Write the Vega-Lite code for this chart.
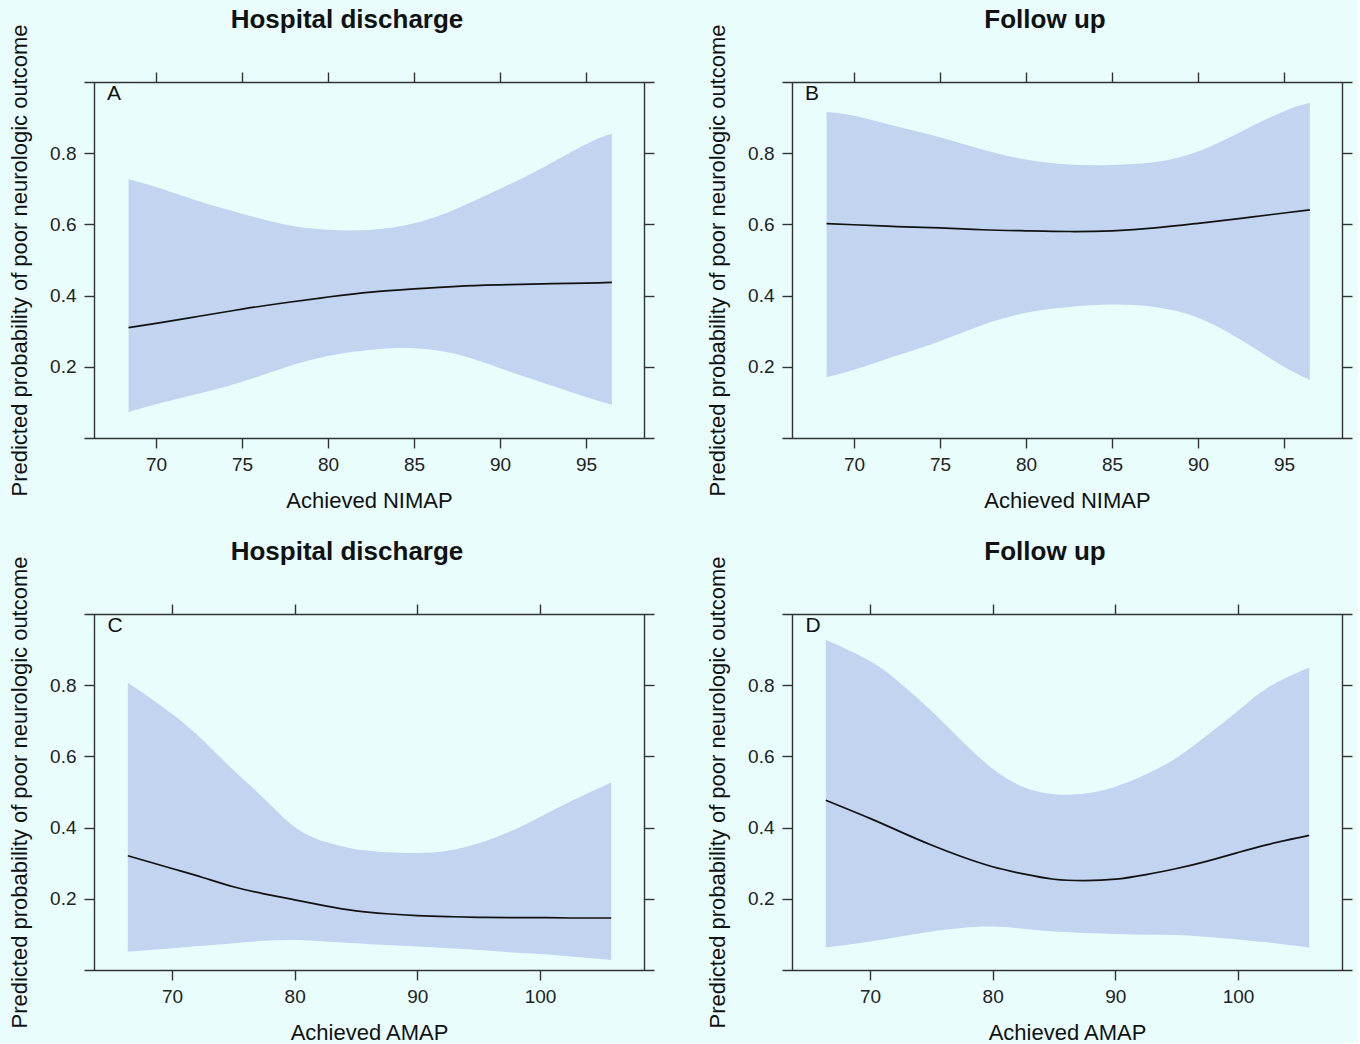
{
  "$schema": "https://vega.github.io/schema/vega-lite/v6.json",
  "background": "#e9fdfd",
  "padding": {"top": 6, "left": 8, "right": 5, "bottom": 0},
  "datasets": {
    "d": [
      {"panel": "A", "x": 68.4, "lo": 0.073, "hi": 0.727, "fit": 0.310},
      {"panel": "A", "x": 70, "lo": 0.095, "hi": 0.705, "fit": 0.322},
      {"panel": "A", "x": 72.5, "lo": 0.125, "hi": 0.665, "fit": 0.342},
      {"panel": "A", "x": 75, "lo": 0.158, "hi": 0.630, "fit": 0.362},
      {"panel": "A", "x": 77.5, "lo": 0.198, "hi": 0.600, "fit": 0.380},
      {"panel": "A", "x": 80, "lo": 0.230, "hi": 0.585, "fit": 0.396},
      {"panel": "A", "x": 82.5, "lo": 0.248, "hi": 0.585, "fit": 0.410},
      {"panel": "A", "x": 85, "lo": 0.252, "hi": 0.603, "fit": 0.419},
      {"panel": "A", "x": 87.5, "lo": 0.235, "hi": 0.645, "fit": 0.426},
      {"panel": "A", "x": 90, "lo": 0.196, "hi": 0.700, "fit": 0.430},
      {"panel": "A", "x": 92.5, "lo": 0.155, "hi": 0.760, "fit": 0.433},
      {"panel": "A", "x": 95, "lo": 0.115, "hi": 0.825, "fit": 0.435},
      {"panel": "A", "x": 96.5, "lo": 0.093, "hi": 0.855, "fit": 0.437},
      {"panel": "B", "x": 68.4, "lo": 0.171, "hi": 0.916, "fit": 0.602},
      {"panel": "B", "x": 70, "lo": 0.192, "hi": 0.905, "fit": 0.599},
      {"panel": "B", "x": 72.5, "lo": 0.232, "hi": 0.875, "fit": 0.594},
      {"panel": "B", "x": 75, "lo": 0.272, "hi": 0.845, "fit": 0.590},
      {"panel": "B", "x": 77.5, "lo": 0.318, "hi": 0.810, "fit": 0.585},
      {"panel": "B", "x": 80, "lo": 0.352, "hi": 0.782, "fit": 0.582},
      {"panel": "B", "x": 82.5, "lo": 0.368, "hi": 0.768, "fit": 0.580},
      {"panel": "B", "x": 85, "lo": 0.375, "hi": 0.767, "fit": 0.582},
      {"panel": "B", "x": 87.5, "lo": 0.368, "hi": 0.775, "fit": 0.590},
      {"panel": "B", "x": 90, "lo": 0.338, "hi": 0.805, "fit": 0.603},
      {"panel": "B", "x": 92.5, "lo": 0.275, "hi": 0.860, "fit": 0.617},
      {"panel": "B", "x": 95, "lo": 0.200, "hi": 0.918, "fit": 0.632},
      {"panel": "B", "x": 96.5, "lo": 0.163, "hi": 0.941, "fit": 0.641},
      {"panel": "C", "x": 66.4, "lo": 0.051, "hi": 0.807, "fit": 0.321},
      {"panel": "C", "x": 70, "lo": 0.061, "hi": 0.720, "fit": 0.285},
      {"panel": "C", "x": 72.5, "lo": 0.068, "hi": 0.646, "fit": 0.260},
      {"panel": "C", "x": 75, "lo": 0.075, "hi": 0.562, "fit": 0.234},
      {"panel": "C", "x": 77.5, "lo": 0.082, "hi": 0.482, "fit": 0.214},
      {"panel": "C", "x": 80, "lo": 0.084, "hi": 0.402, "fit": 0.197},
      {"panel": "C", "x": 82.5, "lo": 0.080, "hi": 0.360, "fit": 0.180},
      {"panel": "C", "x": 85, "lo": 0.075, "hi": 0.339, "fit": 0.166},
      {"panel": "C", "x": 87.5, "lo": 0.070, "hi": 0.331, "fit": 0.158},
      {"panel": "C", "x": 90, "lo": 0.066, "hi": 0.329, "fit": 0.153},
      {"panel": "C", "x": 92.5, "lo": 0.061, "hi": 0.335, "fit": 0.150},
      {"panel": "C", "x": 95, "lo": 0.056, "hi": 0.356, "fit": 0.148},
      {"panel": "C", "x": 97.5, "lo": 0.050, "hi": 0.388, "fit": 0.147},
      {"panel": "C", "x": 100, "lo": 0.045, "hi": 0.430, "fit": 0.147},
      {"panel": "C", "x": 102.5, "lo": 0.038, "hi": 0.474, "fit": 0.146},
      {"panel": "C", "x": 105.8, "lo": 0.028, "hi": 0.527, "fit": 0.146},
      {"panel": "D", "x": 66.4, "lo": 0.063, "hi": 0.928, "fit": 0.477},
      {"panel": "D", "x": 70, "lo": 0.080, "hi": 0.868, "fit": 0.426},
      {"panel": "D", "x": 72.5, "lo": 0.094, "hi": 0.805, "fit": 0.388},
      {"panel": "D", "x": 75, "lo": 0.108, "hi": 0.728, "fit": 0.351},
      {"panel": "D", "x": 77.5, "lo": 0.118, "hi": 0.643, "fit": 0.318},
      {"panel": "D", "x": 80, "lo": 0.122, "hi": 0.565, "fit": 0.290},
      {"panel": "D", "x": 82.5, "lo": 0.116, "hi": 0.514, "fit": 0.270},
      {"panel": "D", "x": 85, "lo": 0.108, "hi": 0.494, "fit": 0.255},
      {"panel": "D", "x": 87.5, "lo": 0.104, "hi": 0.496, "fit": 0.251},
      {"panel": "D", "x": 90, "lo": 0.101, "hi": 0.515, "fit": 0.255},
      {"panel": "D", "x": 92.5, "lo": 0.099, "hi": 0.550, "fit": 0.268},
      {"panel": "D", "x": 95, "lo": 0.098, "hi": 0.596, "fit": 0.285},
      {"panel": "D", "x": 97.5, "lo": 0.093, "hi": 0.660, "fit": 0.306},
      {"panel": "D", "x": 100, "lo": 0.086, "hi": 0.728, "fit": 0.330},
      {"panel": "D", "x": 102.5, "lo": 0.077, "hi": 0.795, "fit": 0.353},
      {"panel": "D", "x": 105.8, "lo": 0.063, "hi": 0.850, "fit": 0.378}
    ]
  },
  "columns": 2,
  "bounds": "flush",
  "spacing": {"row": 176, "column": 128},
  "concat": [
    {
      "width": 570, "height": 356,
      "title": {"text": "Hospital discharge", "dx": -22},
      "data": {"name": "d"},
      "transform": [{"filter": "datum.panel === 'A'"}],
      "resolve": {"axis": {"x": "independent", "y": "independent"}},
      "layer": [
        {
          "mark": {"type": "area", "color": "#c2d4f0", "opacity": 1, "interpolate": "natural"},
          "encoding": {
            "x": {"field": "x", "type": "quantitative", "scale": {"domain": [65.81, 98.95], "nice": false, "zero": false},
                  "axis": {"orient": "bottom", "values": [70, 75, 80, 85, 90, 95], "title": "Achieved NIMAP"}},
            "y": {"field": "lo", "type": "quantitative", "scale": {"domain": [0, 1], "nice": false, "zero": false},
                  "axis": {"orient": "left", "offset": -10, "values": [0.2, 0.4, 0.6, 0.8], "format": ".1f", "title": "Predicted probability of poor neurologic outcome"}},
            "y2": {"field": "hi"}
          }
        },
        {
          "mark": {"type": "line", "color": "#111111", "strokeWidth": 1.7, "interpolate": "natural"},
          "encoding": {
            "x": {"field": "x", "type": "quantitative", "scale": {"domain": [65.81, 98.95], "nice": false, "zero": false},
                  "axis": {"orient": "top", "values": [70, 75, 80, 85, 90, 95], "labels": false, "title": null}},
            "y": {"field": "fit", "type": "quantitative", "scale": {"domain": [0, 1], "nice": false, "zero": false},
                  "axis": {"orient": "right", "offset": -10, "values": [0.2, 0.4, 0.6, 0.8], "labels": false, "title": null}}
          }
        },
        {
          "data": {"values": [{"label": "A"}]},
          "mark": {"type": "text", "fontSize": 21, "align": "center", "baseline": "middle", "color": "#111111"},
          "encoding": {
            "text": {"field": "label"},
            "x": {"datum": 67.55, "type": "quantitative", "scale": {"domain": [65.81, 98.95], "nice": false, "zero": false}, "axis": null},
            "y": {"datum": 0.966, "type": "quantitative", "scale": {"domain": [0, 1], "nice": false, "zero": false}, "axis": null}
          }
        }
      ]
    },
    {
      "width": 570, "height": 356,
      "title": {"text": "Follow up", "dx": -22},
      "data": {"name": "d"},
      "transform": [{"filter": "datum.panel === 'B'"}],
      "resolve": {"axis": {"x": "independent", "y": "independent"}},
      "layer": [
        {
          "mark": {"type": "area", "color": "#c2d4f0", "opacity": 1, "interpolate": "natural"},
          "encoding": {
            "x": {"field": "x", "type": "quantitative", "scale": {"domain": [65.81, 98.95], "nice": false, "zero": false},
                  "axis": {"orient": "bottom", "values": [70, 75, 80, 85, 90, 95], "title": "Achieved NIMAP"}},
            "y": {"field": "lo", "type": "quantitative", "scale": {"domain": [0, 1], "nice": false, "zero": false},
                  "axis": {"orient": "left", "offset": -10, "values": [0.2, 0.4, 0.6, 0.8], "format": ".1f", "title": "Predicted probability of poor neurologic outcome"}},
            "y2": {"field": "hi"}
          }
        },
        {
          "mark": {"type": "line", "color": "#111111", "strokeWidth": 1.7, "interpolate": "natural"},
          "encoding": {
            "x": {"field": "x", "type": "quantitative", "scale": {"domain": [65.81, 98.95], "nice": false, "zero": false},
                  "axis": {"orient": "top", "values": [70, 75, 80, 85, 90, 95], "labels": false, "title": null}},
            "y": {"field": "fit", "type": "quantitative", "scale": {"domain": [0, 1], "nice": false, "zero": false},
                  "axis": {"orient": "right", "offset": -10, "values": [0.2, 0.4, 0.6, 0.8], "labels": false, "title": null}}
          }
        },
        {
          "data": {"values": [{"label": "B"}]},
          "mark": {"type": "text", "fontSize": 21, "align": "center", "baseline": "middle", "color": "#111111"},
          "encoding": {
            "text": {"field": "label"},
            "x": {"datum": 67.55, "type": "quantitative", "scale": {"domain": [65.81, 98.95], "nice": false, "zero": false}, "axis": null},
            "y": {"datum": 0.966, "type": "quantitative", "scale": {"domain": [0, 1], "nice": false, "zero": false}, "axis": null}
          }
        }
      ]
    },
    {
      "width": 570, "height": 356,
      "title": {"text": "Hospital discharge", "dx": -22},
      "data": {"name": "d"},
      "transform": [{"filter": "datum.panel === 'C'"}],
      "resolve": {"axis": {"x": "independent", "y": "independent"}},
      "layer": [
        {
          "mark": {"type": "area", "color": "#c2d4f0", "opacity": 1, "interpolate": "natural"},
          "encoding": {
            "x": {"field": "x", "type": "quantitative", "scale": {"domain": [62.83, 109.29], "nice": false, "zero": false},
                  "axis": {"orient": "bottom", "values": [70, 80, 90, 100], "title": "Achieved AMAP"}},
            "y": {"field": "lo", "type": "quantitative", "scale": {"domain": [0, 1], "nice": false, "zero": false},
                  "axis": {"orient": "left", "offset": -10, "values": [0.2, 0.4, 0.6, 0.8], "format": ".1f", "title": "Predicted probability of poor neurologic outcome"}},
            "y2": {"field": "hi"}
          }
        },
        {
          "mark": {"type": "line", "color": "#111111", "strokeWidth": 1.7, "interpolate": "natural"},
          "encoding": {
            "x": {"field": "x", "type": "quantitative", "scale": {"domain": [62.83, 109.29], "nice": false, "zero": false},
                  "axis": {"orient": "top", "values": [70, 80, 90, 100], "labels": false, "title": null}},
            "y": {"field": "fit", "type": "quantitative", "scale": {"domain": [0, 1], "nice": false, "zero": false},
                  "axis": {"orient": "right", "offset": -10, "values": [0.2, 0.4, 0.6, 0.8], "labels": false, "title": null}}
          }
        },
        {
          "data": {"values": [{"label": "C"}]},
          "mark": {"type": "text", "fontSize": 21, "align": "center", "baseline": "middle", "color": "#111111"},
          "encoding": {
            "text": {"field": "label"},
            "x": {"datum": 65.36, "type": "quantitative", "scale": {"domain": [62.83, 109.29], "nice": false, "zero": false}, "axis": null},
            "y": {"datum": 0.966, "type": "quantitative", "scale": {"domain": [0, 1], "nice": false, "zero": false}, "axis": null}
          }
        }
      ]
    },
    {
      "width": 570, "height": 356,
      "title": {"text": "Follow up", "dx": -22},
      "data": {"name": "d"},
      "transform": [{"filter": "datum.panel === 'D'"}],
      "resolve": {"axis": {"x": "independent", "y": "independent"}},
      "layer": [
        {
          "mark": {"type": "area", "color": "#c2d4f0", "opacity": 1, "interpolate": "natural"},
          "encoding": {
            "x": {"field": "x", "type": "quantitative", "scale": {"domain": [62.83, 109.29], "nice": false, "zero": false},
                  "axis": {"orient": "bottom", "values": [70, 80, 90, 100], "title": "Achieved AMAP"}},
            "y": {"field": "lo", "type": "quantitative", "scale": {"domain": [0, 1], "nice": false, "zero": false},
                  "axis": {"orient": "left", "offset": -10, "values": [0.2, 0.4, 0.6, 0.8], "format": ".1f", "title": "Predicted probability of poor neurologic outcome"}},
            "y2": {"field": "hi"}
          }
        },
        {
          "mark": {"type": "line", "color": "#111111", "strokeWidth": 1.7, "interpolate": "natural"},
          "encoding": {
            "x": {"field": "x", "type": "quantitative", "scale": {"domain": [62.83, 109.29], "nice": false, "zero": false},
                  "axis": {"orient": "top", "values": [70, 80, 90, 100], "labels": false, "title": null}},
            "y": {"field": "fit", "type": "quantitative", "scale": {"domain": [0, 1], "nice": false, "zero": false},
                  "axis": {"orient": "right", "offset": -10, "values": [0.2, 0.4, 0.6, 0.8], "labels": false, "title": null}}
          }
        },
        {
          "data": {"values": [{"label": "D"}]},
          "mark": {"type": "text", "fontSize": 21, "align": "center", "baseline": "middle", "color": "#111111"},
          "encoding": {
            "text": {"field": "label"},
            "x": {"datum": 65.36, "type": "quantitative", "scale": {"domain": [62.83, 109.29], "nice": false, "zero": false}, "axis": null},
            "y": {"datum": 0.966, "type": "quantitative", "scale": {"domain": [0, 1], "nice": false, "zero": false}, "axis": null}
          }
        }
      ]
    }
  ],
  "config": {
    "font": "Liberation Sans",
    "view": {"stroke": null},
    "axis": {
      "grid": false,
      "domainColor": "#333333",
      "domainWidth": 1.4,
      "tickColor": "#333333",
      "tickWidth": 1.4,
      "tickSize": 10,
      "labelFontSize": 19,
      "labelColor": "#222222",
      "labelPadding": 8,
      "titleFontSize": 22,
      "titleFontWeight": "normal",
      "titleColor": "#111111",
      "titlePadding": 14
    },
    "axisBottom": {"labelPadding": 7, "titlePadding": 16},
    "axisLeft": {"titlePadding": 18},
    "title": {"fontSize": 26, "fontWeight": "bold", "color": "#111111", "offset": -9, "anchor": "middle"}
  }
}
